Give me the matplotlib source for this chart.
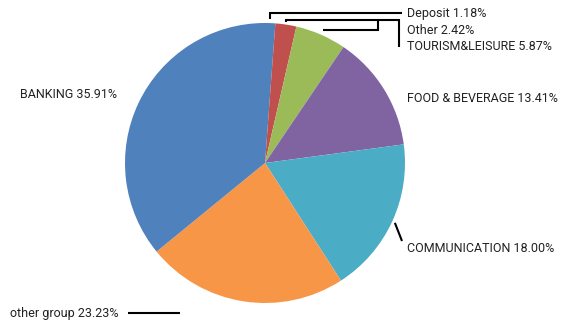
import matplotlib
matplotlib.use("Agg")
import matplotlib.pyplot as plt
import numpy as np

labels = ["Deposit", "Other", "TOURISM&LEISURE", "FOOD & BEVERAGE",
          "COMMUNICATION", "other group", "BANKING"]
values = [1.18, 2.42, 5.87, 13.41, 18.00, 23.23, 35.91]
colors = ["#4F81BD", "#C0504D", "#9BBB59", "#8064A2",
          "#4BACC6", "#F79646", "#4F81BD"]

W, H = 571, 320
CX, CY, R = 265, 163, 140

plt.rcParams['font.family'] = ['Roboto', 'DejaVu Sans']
fig = plt.figure(figsize=(W / 100, H / 100), dpi=100)
ax = fig.add_axes([0, 0, 1, 1])
ax.pie(values, colors=colors, startangle=90, counterclock=False,
       center=(CX, H - CY), radius=R, frame=True,
       wedgeprops=dict(linewidth=0))
ax.set_xlim(0, W)
ax.set_ylim(0, H)
ax.set_aspect("equal")
ax.axis("off")

# mid angles of slices (clockwise from 12 o'clock)
cum = np.cumsum(values)
total = cum[-1]
mid = (cum - np.array(values) / 2) / total * 2 * np.pi


def edge(i, off):
    # point just outside slice i, image coords (y down)
    a = mid[i]
    return CX + (R + off) * np.sin(a), CY - (R + off) * np.cos(a)


def line(pts):
    xs = [p[0] for p in pts]
    ys = [H - p[1] for p in pts]
    ax.plot(xs, ys, color="black", lw=1.5, solid_capstyle="butt",
            solid_joinstyle="miter")


x0, y0 = edge(0, 4)
line([(x0, y0), (x0, 13), (402, 13)])
x1, y1 = edge(1, 3)
line([(x1, y1), (x1, 19.5), (399, 19.5), (399, 47)])
x2, y2 = edge(2, 5)
line([(x2, 30), (378, 30), (378, 19.5)])
x4, y4 = edge(4, 3)
line([(x4, y4), (402, 241)])
line([(128, 313), (180, 313)])

tc = "#222222"
fs = 9
pos = {
    0: (407, 14),
    1: (407, 31),
    2: (407, 47),
    3: (407, 98),
    4: (407, 248),
    5: (10, 313),
    6: (20, 95),
}
for i, (x, y) in pos.items():
    ax.text(x, H - y, f"{labels[i]} {values[i]:.2f}%", ha="left", va="center",
            fontsize=fs, color=tc)

fig.savefig("out.png", dpi=100)
